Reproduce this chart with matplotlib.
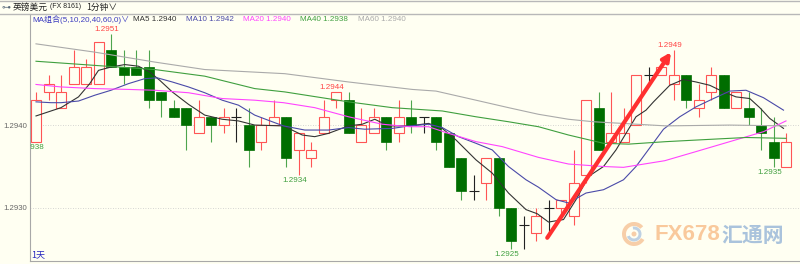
import matplotlib
matplotlib.use('Agg')
import matplotlib.pyplot as plt
from matplotlib.patches import Wedge, Circle
from matplotlib.lines import Line2D

plt.rcParams['font.family'] = ['Liberation Sans', 'Noto Sans CJK SC', 'DejaVu Sans']
CJK = ['Noto Sans CJK SC', 'DejaVu Sans']

# 1-minute GBP/USD candles
opens = [1.2938, 1.2944, 1.2942, 1.2945, 1.2945, 1.2945, 1.2949, 1.2947, 1.2947, 1.2947,
         1.2944, 1.2942, 1.2942, 1.2939, 1.2941, 1.2940, 1.2941, 1.2940, 1.2938, 1.2940,
         1.2941, 1.2937, 1.2936, 1.2939, 1.2943, 1.2943, 1.2938, 1.2939, 1.2941, 1.2939,
         1.2941, 1.2941, 1.2941, 1.2939, 1.2936, 1.2932, 1.2933, 1.2936, 1.2930, 1.2928,
         1.2927, 1.2930, 1.2930, 1.2929, 1.2934, 1.2942, 1.2938, 1.2938, 1.2940, 1.2946,
         1.2946, 1.2945, 1.2946, 1.2942, 1.2944, 1.2946, 1.2942, 1.2942, 1.2940, 1.2938,
         1.2935]
highs = [1.2944, 1.2946, 1.2946, 1.2949, 1.2948, 1.2950, 1.2951, 1.2949, 1.2949, 1.2949,
         1.2944, 1.2943, 1.2942, 1.2943, 1.2941, 1.2942, 1.2942, 1.2942, 1.2941, 1.2943,
         1.2941, 1.2939, 1.2938, 1.2943, 1.2944, 1.2944, 1.2942, 1.2942, 1.2941, 1.2943,
         1.2943, 1.2941, 1.2941, 1.2939, 1.2936, 1.2934, 1.2936, 1.2936, 1.2930, 1.2929,
         1.2930, 1.2931, 1.2931, 1.2937, 1.2943, 1.2944, 1.2944, 1.2942, 1.2946, 1.2947,
         1.2947, 1.2949, 1.2946, 1.2945, 1.2947, 1.2946, 1.2944, 1.2944, 1.2942, 1.2941,
         1.2939]
lows = [1.2938, 1.2943, 1.2942, 1.2945, 1.2945, 1.2945, 1.2947, 1.2945, 1.2946, 1.2942,
        1.2941, 1.2941, 1.2937, 1.2939, 1.2938, 1.2939, 1.2938, 1.2935, 1.2937, 1.2940,
        1.2935, 1.2934, 1.2935, 1.2939, 1.2942, 1.2939, 1.2938, 1.2939, 1.2937, 1.2938,
        1.2939, 1.2939, 1.2937, 1.2935, 1.2931, 1.2931, 1.2931, 1.2929, 1.2925, 1.2925,
        1.2926, 1.2927, 1.2929, 1.2928, 1.2933, 1.2937, 1.2938, 1.2938, 1.2940, 1.2945,
        1.2946, 1.2943, 1.2942, 1.2941, 1.2943, 1.2942, 1.2942, 1.2940, 1.2937, 1.2935,
        1.2935]
closes = [1.2943, 1.2945, 1.2944, 1.2947, 1.2947, 1.2950, 1.2947, 1.2946, 1.2946, 1.2943,
          1.2943, 1.2941, 1.2940, 1.2941, 1.2940, 1.2941, 1.2941, 1.2937, 1.2940, 1.2941,
          1.2936, 1.2939, 1.2937, 1.2941, 1.2944, 1.2939, 1.2940, 1.2941, 1.2938, 1.2941,
          1.2940, 1.2941, 1.2938, 1.2935, 1.2932, 1.2932, 1.2936, 1.2930, 1.2926, 1.2928,
          1.2929, 1.2930, 1.2931, 1.2933, 1.2943, 1.2937, 1.2939, 1.2939, 1.2946, 1.2946,
          1.2947, 1.2946, 1.2943, 1.2943, 1.2946, 1.2942, 1.2944, 1.2941, 1.2939, 1.2936,
          1.2938]

# moving average lines (candle index, price)
ma5_x = [0, 2, 3.4, 4.3, 5, 6, 7.1, 8.2, 9.1, 9.9, 10.9, 12.2, 13.5, 14.9, 16.2, 17.5, 19.8,
         21.3, 22.3, 23.4, 25, 26.1, 27.1, 28.2, 29.9, 31.4, 32.5, 33.6, 35.2, 36.5, 37.8,
         39.2, 40.1, 41, 42.2, 43.2, 44.2, 45.4, 46.4, 47.2, 48, 48.8, 49.4, 50.7, 51.8,
         52.8, 53.9, 55, 56, 57.1, 57.9, 58.7, 59.8]
ma5_y = [1.29411, 1.29421, 1.29434, 1.29450, 1.29466, 1.29470, 1.29473, 1.29471, 1.29464,
         1.29454, 1.29440, 1.29425, 1.29412, 1.29407, 1.29405, 1.29400, 1.29399, 1.29388,
         1.29386, 1.29390, 1.29399, 1.29401, 1.29407, 1.29399, 1.29399, 1.29402, 1.29396,
         1.29382, 1.29358, 1.29342, 1.29318, 1.29298, 1.29293, 1.29283, 1.29286, 1.29310,
         1.29338, 1.29350, 1.29370, 1.29390, 1.29410, 1.29418, 1.29428, 1.29448, 1.29455,
         1.29452, 1.29448, 1.29440, 1.29434, 1.29432, 1.29421, 1.29408, 1.29396]
ma10_x = [0, 1.2, 2, 3.4, 4.7, 6, 7.4, 8.7, 9.7, 10.9, 12.2, 13.5, 14.9, 16.2, 17.5, 18.9,
          19.8, 21.5, 23.4, 25, 26.3, 28.5, 29.9, 31.4, 32.5, 33.8, 35.2, 36.5, 37.8, 39.2,
          40.2, 41.6, 42.6, 44, 45.4, 47, 48, 50.2, 51.5, 52.8, 54.2, 55.5, 56.8, 58.2, 59.8]
ma10_y = [1.29428, 1.29427, 1.29427, 1.29429, 1.29436, 1.29442, 1.29450, 1.29456, 1.29457,
          1.29452, 1.29446, 1.29439, 1.29430, 1.29424, 1.29412, 1.29404, 1.29399, 1.29394,
          1.29394, 1.29397, 1.29395, 1.29396, 1.29399, 1.29401, 1.29397, 1.29386, 1.29378,
          1.29370, 1.29350, 1.29334, 1.29325, 1.29310, 1.29306, 1.29318, 1.29322, 1.29334,
          1.29350, 1.29395, 1.29410, 1.29422, 1.29432, 1.29441, 1.29442, 1.29433, 1.29418]
ma20_x = [0, 2, 4.7, 7.4, 9.5, 12.2, 14.9, 17.5, 19.8, 22.3, 25, 27.7, 29.9, 31.4, 33, 35.2,
          37.3, 40.2, 42.6, 45.4, 47, 50.3, 52.8, 55.5, 58.2, 60]
ma20_y = [1.29449, 1.29446, 1.29444, 1.29443, 1.29442, 1.29439, 1.29432, 1.29430, 1.29427,
          1.29421, 1.29410, 1.29401, 1.29398, 1.29398, 1.29390, 1.29380, 1.29374, 1.29361,
          1.29353, 1.29350, 1.29349, 1.29357, 1.29368, 1.29380, 1.29392, 1.29405]
ma40_x = [0, 4.7, 9.5, 13.5, 17.5, 19.9, 25, 28.5, 32.5, 35.2, 37.8, 40.2, 42.6, 45.4, 47.4,
          50.4, 54.2, 56.8, 60]
ma40_y = [1.29477, 1.29472, 1.29467, 1.29459, 1.29444, 1.29440, 1.29428, 1.29421, 1.29417,
          1.29410, 1.29404, 1.29398, 1.29388, 1.29378, 1.29377, 1.29380, 1.29383, 1.29385,
          1.29384]
ma60_x = [0, 4.7, 9.5, 13.5, 19.9, 25, 30.1, 32, 35.2, 37.8, 40.2, 42.6, 44.6, 50.4, 55.5, 60]
ma60_y = [1.29498, 1.29488, 1.29476, 1.29467, 1.29462, 1.29452, 1.29443, 1.29441, 1.29430,
          1.29421, 1.29413, 1.29407, 1.29404, 1.29399, 1.29400, 1.29399]

ma_names = ['MA5', 'MA10', 'MA20', 'MA40', 'MA60']
ma_last = ['1.2940', '1.2942', '1.2940', '1.2938', '1.2940']
ma_colors = ['#333333', '#4a4aa8', '#ff44ff', '#3f9f3f', '#aaaaaa']

# high / low markers: candle index, price, above or below
mark_idx = [0, 6, 21, 24, 38, 51, 59]
mark_val = [1.2938, 1.2951, 1.2934, 1.2944, 1.2925, 1.2949, 1.2935]
mark_up = [False, True, False, True, False, True, False]

arrow_from = (40.9, 1.29264)
arrow_to = (50.8, 1.29488)

bg = '#fffff2'
red = '#ff5555'
green = '#006e00'
green_wick = '#4ea54e'

fig = plt.figure(figsize=(8, 2.64), dpi=100, facecolor=bg)


def fx(px):
    return px / 800


def fy(py):
    return 1 - py / 264


ax = fig.add_axes([fx(30), fy(261), fx(770), 247 / 264])
ax.set_facecolor(bg)
ax.set_xlim(-0.48, 61.12)
ax.set_ylim(1.29236, 1.29534)

ax.set_yticks([1.2930, 1.2940])
ax.set_yticklabels(['1.2930', '1.2940'])
ax.set_xticks([])
ax.tick_params(axis='y', length=0, pad=2, labelsize=5.6, labelcolor='#666666')
ax.grid(axis='y', linestyle=(0, (1, 2)), color='#c8c8c8', linewidth=0.6)
for s in ['top', 'right']:
    ax.spines[s].set_visible(False)
ax.spines['left'].set_color('#a8a8a8')
ax.spines['bottom'].set_color('#a8a8a8')
ax.spines['left'].set_linewidth(0.8)
ax.spines['bottom'].set_linewidth(0.8)

w = 0.8
for i in range(len(opens)):
    o, h, l, c = opens[i], highs[i], lows[i], closes[i]
    if abs(c - o) < 1e-7:
        ax.vlines(i, l, h, color='#222222', linewidth=0.8, zorder=2)
        ax.hlines(o, i - w / 2, i + w / 2, color='#222222', linewidth=0.8, zorder=2)
    elif c > o:
        ax.vlines(i, l, h, color=red, linewidth=0.8, zorder=2)
        ax.bar(i, c - o, bottom=o, width=w, facecolor=bg, edgecolor=red,
               linewidth=0.8, zorder=3)
    else:
        ax.vlines(i, l, h, color=green_wick, linewidth=0.8, zorder=2)
        ax.bar(i, o - c, bottom=c, width=w, facecolor=green, edgecolor=green,
               linewidth=0.5, zorder=3)

for xs, ys, col in zip([ma5_x, ma10_x, ma20_x, ma40_x, ma60_x],
                       [ma5_y, ma10_y, ma20_y, ma40_y, ma60_y], ma_colors):
    ax.plot(xs, ys, color=col, linewidth=0.8, zorder=4)

for i, v, up in zip(mark_idx, mark_val, mark_up):
    ax.annotate(f'{v:.4f}', xy=(i, v), xytext=(-3, 1 if up else -1.5),
                textcoords='offset points', ha='center',
                va='bottom' if up else 'top', fontsize=5.8,
                color='#ff4444' if up else '#3f9f3f', annotation_clip=False,
                clip_on=True, zorder=6)

ax.annotate('', xy=arrow_to, xytext=arrow_from,
            arrowprops=dict(arrowstyle='-|>', color='#ff3030', lw=3,
                            mutation_scale=12, shrinkA=0, shrinkB=0), zorder=7)

# header rows
fig.add_artist(Line2D([0, 1], [fy(0.5), fy(0.5)], color='#b8b8b8', linewidth=1))
fig.add_artist(Line2D([0, 1], [fy(13.5), fy(13.5)], color='#b8b8b8', linewidth=1))
fig.text(fx(1), fy(7), '⊶', fontsize=6.5, color='#556677', va='center', family='DejaVu Sans')
fig.text(fx(13), fy(7), '英镑美元', fontsize=6.3, color='#222222', va='center', family=CJK)
fig.text(fx(50), fy(7), '(FX 8161)', fontsize=5, color='#222222', va='center')
fig.text(fx(86), fy(7), '1分钟∨', fontsize=6.3, color='#222222', va='center', family=CJK)

fig.text(fx(32), fy(19.5), 'MA组合(5,10,20,40,60,0)∨', fontsize=5.8, color='#3c3cc0',
         va='center', family=['Liberation Sans', 'Noto Sans CJK SC'])
for px, name, val, col in zip([133, 186, 243, 300, 358], ma_names, ma_last, ma_colors):
    fig.text(fx(px), fy(19.5), f'{name} {val}', fontsize=5.8, color=col, va='center')

fig.text(fx(31), fy(254.5), '1天', fontsize=6.5, color='#2828c0', va='center', family=CJK)

# watermark
lax = fig.add_axes([fx(620), fy(248), fx(28), 28 / 264])
lax.set_xlim(-14, 14)
lax.set_ylim(-14, 14)
lax.axis('off')
lax.add_patch(Wedge((0, 0), 12, 40, 330, width=4, facecolor='#f7c9a0', alpha=0.9))
lax.add_patch(Wedge((0, 0), 7.5, 200, 100, width=3, facecolor='#b7cce2', alpha=0.9))
lax.add_patch(Circle((0, 0), 2.5, facecolor='#f7c9a0', alpha=0.9))
fig.text(fx(655), fy(235), 'FX678', fontsize=16, color='#f9c99c', va='center',
         family='Liberation Sans', fontweight='bold')
fig.text(fx(721), fy(235), '汇通网', fontsize=15, color='#aac3dc', va='center',
         family=CJK, fontweight='bold')

fig.savefig('out.png', dpi=100, facecolor=bg)
